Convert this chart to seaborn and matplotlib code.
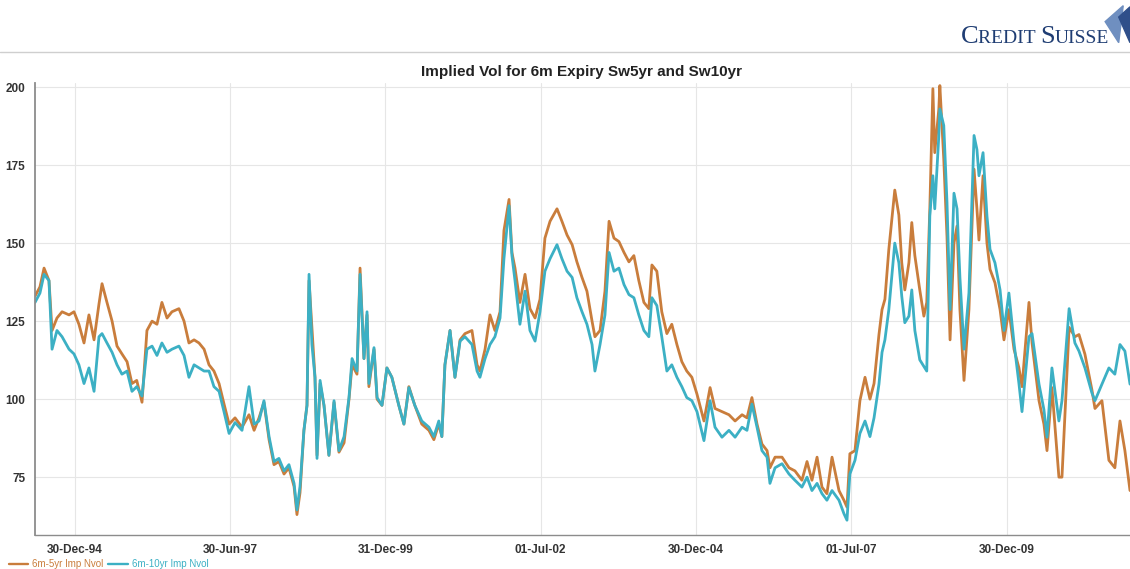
import pandas as pd
import matplotlib.pyplot as plt
import matplotlib.dates as mdates
import seaborn as sns
from matplotlib.lines import Line2D
from matplotlib.patches import Polygon
from matplotlib.offsetbox import TextArea, HPacker, AnchoredOffsetbox

# values (approximate)
dates = [
    "1994-05-11", "1994-06-09", "1994-07-03", "1994-08-01", "1994-08-19", "1994-09-17", "1994-10-17", "1994-11-27", "1994-12-26",
    "1995-01-24", "1995-02-23", "1995-03-24", "1995-04-23", "1995-05-22", "1995-06-09", "1995-07-08", "1995-08-07", "1995-09-05",
    "1995-10-04", "1995-11-03", "1995-12-02", "1995-12-30",
    "1996-01-30", "1996-02-28", "1996-03-29", "1996-04-27", "1996-05-26", "1996-06-25", "1996-07-24", "1996-09-03", "1996-10-03",
    "1996-11-01", "1996-12-01", "1996-12-30",
    "1997-01-29", "1997-02-27", "1997-03-28", "1997-04-27", "1997-05-26", "1997-06-25", "1997-07-30", "1997-09-09", "1997-10-20",
    "1997-11-19", "1997-12-18",
    "1998-01-16", "1998-02-15", "1998-03-16", "1998-04-14", "1998-05-14", "1998-06-12", "1998-07-12", "1998-07-29", "1998-08-16",
    "1998-09-08", "1998-09-26", "1998-10-08", "1998-10-25", "1998-11-12", "1998-11-24", "1998-12-12",
    "1999-01-04", "1999-02-02", "1999-03-04", "1999-04-02", "1999-05-02", "1999-05-31", "1999-06-18", "1999-07-17", "1999-08-04",
    "1999-08-27", "1999-09-14", "1999-09-25", "1999-10-25", "1999-11-12", "1999-12-11",
    "2000-01-09", "2000-02-07", "2000-03-19", "2000-04-18", "2000-05-17", "2000-06-21", "2000-08-01", "2000-09-12", "2000-10-11",
    "2000-11-09", "2000-11-27", "2000-12-15",
    "2001-01-14", "2001-02-12", "2001-03-14", "2001-04-12", "2001-05-23", "2001-06-22", "2001-07-09", "2001-08-08", "2001-09-06",
    "2001-10-05", "2001-11-04", "2001-11-27", "2001-12-27",
    "2002-01-13", "2002-01-31", "2002-03-01", "2002-03-31", "2002-04-29", "2002-05-29", "2002-06-27", "2002-07-26", "2002-08-25",
    "2002-10-05", "2002-11-03", "2002-12-03",
    "2003-01-02", "2003-01-30", "2003-03-01", "2003-03-30", "2003-04-29", "2003-05-16", "2003-06-15", "2003-07-14", "2003-08-07",
    "2003-09-05", "2003-10-04", "2003-11-03", "2003-12-02", "2003-12-31",
    "2004-01-29", "2004-02-28", "2004-03-28", "2004-04-15", "2004-05-14", "2004-06-12", "2004-07-12", "2004-08-10", "2004-09-09",
    "2004-10-08", "2004-11-06", "2004-12-06",
    "2005-01-05", "2005-02-15", "2005-03-23", "2005-04-21", "2005-06-01", "2005-07-12", "2005-08-17", "2005-09-27", "2005-10-26",
    "2005-11-24", "2005-12-24",
    "2006-01-22", "2006-02-21", "2006-03-10", "2006-04-09", "2006-05-20", "2006-06-30", "2006-08-04", "2006-09-14", "2006-10-14",
    "2006-11-12", "2006-12-12",
    "2007-01-10", "2007-02-08", "2007-03-10", "2007-04-20", "2007-05-19", "2007-06-06", "2007-06-23", "2007-07-23", "2007-08-21",
    "2007-09-20", "2007-10-19", "2007-11-12", "2007-12-11", "2007-12-29",
    "2008-01-15", "2008-02-07", "2008-03-13", "2008-04-06", "2008-04-23", "2008-05-11", "2008-06-04", "2008-06-21", "2008-07-09",
    "2008-08-07", "2008-08-31", "2008-09-17", "2008-10-05", "2008-10-23", "2008-11-03", "2008-11-27", "2008-12-03", "2008-12-26",
    "2009-01-14", "2009-02-01", "2009-02-24", "2009-03-14", "2009-03-31", "2009-04-24", "2009-05-23", "2009-06-22", "2009-07-09",
    "2009-07-21", "2009-08-14", "2009-09-06", "2009-09-24", "2009-10-23", "2009-11-22", "2009-12-15",
    "2010-01-13", "2010-02-12", "2010-03-13", "2010-03-31", "2010-05-11", "2010-05-29", "2010-07-09", "2010-08-07", "2010-08-25",
    "2010-09-23", "2010-11-03", "2010-11-21",
    "2011-01-02", "2011-02-05", "2011-03-01", "2011-04-05", "2011-05-16", "2011-06-03", "2011-07-14", "2011-08-24", "2011-09-28",
    "2011-10-28", "2011-11-26", "2011-12-26",
]

vol_5yr = [
    133, 136, 142, 138, 122, 126, 128, 127, 128,
    124, 118, 127, 119, 130.5, 137, 131, 125, 117, 114.5, 112, 105, 106,
    99, 122, 125, 124, 131, 126, 128, 129, 125, 118, 119, 118,
    116, 111, 109, 105, 98.5, 92, 94, 91, 95, 90, 94,
    99, 87, 79, 80, 76, 78, 72, 63, 70, 90, 98, 138, 123, 107, 82, 105,
    98, 82, 99, 83, 86, 100, 111, 108, 142, 113, 127, 104, 116, 100, 98,
    110, 107, 98, 92, 104, 98, 92, 90, 87, 92, 88, 111,
    122, 107, 119, 121, 122, 111, 109, 116, 127, 122, 128, 154, 164,
    147, 142, 131, 140, 129, 126, 132, 151.6, 157, 161, 157, 152.6,
    149.5, 144, 139, 134.6, 125, 120, 122, 134.6, 157, 151.6, 150.5, 147, 144, 146,
    138, 131, 129, 143, 141, 128, 121, 124, 117.5, 112, 109, 107,
    101.6, 93, 103.7, 97, 96, 95, 93, 95, 94, 100.5, 92,
    85.6, 83.5, 78, 81.4, 81.4, 78, 77, 74, 80, 74, 81.4,
    71.8, 69.7, 81.4, 70.7, 67.6, 65.4, 82.5, 83.5, 99.5, 107, 100, 105, 120.7, 128.7,
    132, 148, 167, 159, 143.7, 135, 143.7, 156.6, 146, 135, 126.6, 131, 161, 199.5, 179, 193, 200.5, 177,
    152, 119, 150, 155.5, 128.7, 106, 128.7, 173.7, 161, 151, 171.6, 150, 141.6, 137.3, 128.7, 119,
    128.7, 116, 110, 104, 131, 118, 99.5, 92, 83.5, 103.7, 75, 75,
    123, 120, 120.7, 114.4, 103, 97, 99.5, 80.4, 78, 93, 83.5, 70.7,
]

vol_10yr = [
    131, 134, 140, 138, 116, 122, 120, 116, 114.5,
    111, 105, 110, 102.5, 120, 121, 118, 115, 111, 108, 109, 102.5, 104,
    101, 116, 117, 114, 118, 115, 116, 117, 114, 107, 111, 110,
    109, 109, 104, 102.5, 96, 89, 92.5, 90, 104, 92, 93,
    99.5, 88, 80, 81, 77, 79, 73, 64.5, 72, 90, 98, 140, 117.5, 107, 81, 106,
    98, 82, 99.5, 83.5, 88, 100.5, 113, 109, 140, 113, 128, 105, 116.5, 100.5, 98,
    110, 107, 98, 92, 103.7, 98, 93, 91, 88, 93, 88, 111,
    122, 107, 118.6, 120, 117.5, 109, 107, 113, 117.5, 120, 126, 145, 162,
    146, 138, 124, 134.6, 122, 118.6, 128, 141, 145, 149.5, 145, 141,
    139, 132.5, 128, 124, 117.5, 109, 117.5, 127, 147, 141, 142, 136.7, 133.5, 132.5,
    127, 122, 120, 132.5, 130, 120, 109, 111, 107, 104, 100.5, 99.5,
    96, 86.7, 99.5, 91, 87.8, 90, 87.8, 91, 90, 98.4, 91,
    83.5, 81.4, 73, 78, 79.3, 76, 74, 71.8, 75, 70.7, 73,
    69.7, 67.6, 70.7, 67.6, 63.3, 61.2, 76, 80.4, 89, 93, 88, 94, 104.8, 115,
    119, 128.7, 150, 143.7, 133, 124.5, 126.6, 135, 122, 112.6, 110.5, 109, 158.7, 171.6, 161, 184.5, 193, 187.7,
    163, 128.7, 166, 161, 139, 116, 134, 184.5, 180, 171.6, 179, 158.7, 148, 143.7, 135, 122,
    134, 118, 105, 96, 120, 121, 104.8, 96.6, 87.8, 110, 93, 99.5,
    129, 118, 115.4, 110, 102, 99.5, 104.8, 110, 108, 117.5, 115.4, 104.8,
]

series_names = ["6m-5yr Imp Nvol", "6m-10yr Imp Nvol"]
colors = ["#c97d3c", "#3cb0c4"]
tick_dates = ["1994-12-30", "1997-06-30", "1999-12-31", "2002-07-01", "2004-12-30", "2007-07-01", "2009-12-30"]
y_ticks = [75, 100, 125, 150, 175, 200]

df = pd.DataFrame({"date": pd.to_datetime(dates), series_names[0]: vol_5yr, series_names[1]: vol_10yr})
long_df = df.melt(id_vars="date", var_name="series", value_name="vol")

sns.set_style("white")
plt.rcParams["font.family"] = ["Liberation Sans", "DejaVu Sans"]

fig = plt.figure(figsize=(11.3, 5.69), dpi=100)
ax = fig.add_axes([0.031, 0.06, 0.969, 0.794])

sns.lineplot(data=long_df, x="date", y="vol", hue="series", hue_order=series_names,
             palette=colors, linewidth=2.0, legend=False, ax=ax)

ax.set_xlim(df["date"].min(), df["date"].max())
ax.set_ylim(56.5, 201.3)
ax.set_xlabel("")
ax.set_ylabel("")

ax.set_xticks(pd.to_datetime(tick_dates))
ax.xaxis.set_major_formatter(mdates.DateFormatter("%d-%b-%y"))
ax.set_yticks(y_ticks)
ax.grid(True, color="#e6e6e6", linewidth=0.8)
ax.tick_params(axis="both", direction="out", length=4, width=0.8, color="#999999",
               labelsize=8.5, labelcolor="#333333", pad=3)
for lbl in ax.get_xticklabels() + ax.get_yticklabels():
    lbl.set_fontweight("bold")
ax.tick_params(axis="x", pad=2.5)

for side in ["top", "right"]:
    ax.spines[side].set_visible(False)
ax.spines["left"].set_color("#8c8c8c")
ax.spines["left"].set_linewidth(1.3)
ax.spines["bottom"].set_color("#8c8c8c")
ax.spines["bottom"].set_linewidth(1.0)

# title
fig.text(0.515, 0.874, "Implied Vol for 6m Expiry Sw5yr and Sw10yr", ha="center", va="center",
         fontsize=11, fontweight="bold", color="#222222")

# header rule
fig.add_artist(Line2D([0, 1], [0.908, 0.908], color="#cfcfcf", linewidth=1.0))

# logo text in small caps style
navy = "#1f3d73"
parts = [TextArea("C", textprops=dict(fontsize=19, color=navy, family="Liberation Serif")),
         TextArea("REDIT ", textprops=dict(fontsize=14, color=navy, family="Liberation Serif")),
         TextArea("S", textprops=dict(fontsize=19, color=navy, family="Liberation Serif")),
         TextArea("UISSE", textprops=dict(fontsize=14, color=navy, family="Liberation Serif"))]
logo = HPacker(children=parts, align="baseline", pad=0, sep=0)
anchored = AnchoredOffsetbox(loc="center", child=logo, frameon=False,
                             bbox_to_anchor=(0.916, 0.935), bbox_transform=fig.transFigure, borderpad=0)
fig.add_artist(anchored)
fig.add_artist(Polygon([[0.978, 0.962], [0.994, 0.99], [0.99, 0.925]], closed=True,
                       transform=fig.transFigure, color="#6f8fc0"))
fig.add_artist(Polygon([[0.99, 0.97], [1.0, 0.988], [1.0, 0.925]], closed=True,
                       transform=fig.transFigure, color="#2f4f8a"))

# legend at bottom-left
handles = [Line2D([0], [0], color=c, linewidth=1.7) for c in colors]
leg = fig.legend(handles, series_names, loc="lower left", bbox_to_anchor=(0.0, -0.016), ncol=2,
                 frameon=False, fontsize=7, handlelength=2.0, handletextpad=0.4, columnspacing=0.5)
for txt, c in zip(leg.get_texts(), colors):
    txt.set_color(c)

fig.savefig("out.png", dpi=100)
